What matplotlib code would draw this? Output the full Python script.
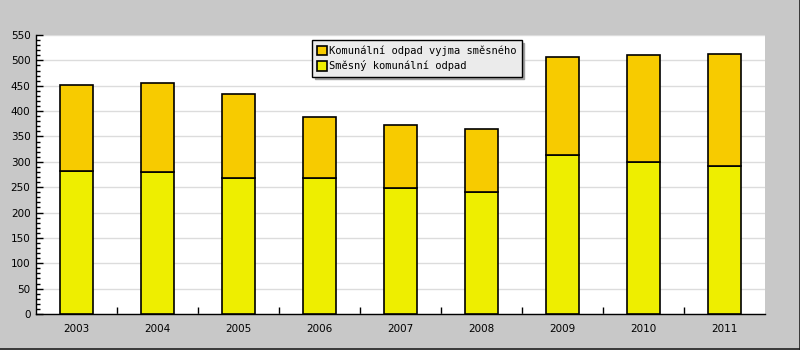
import numpy as np
import matplotlib.pyplot as plt
from matplotlib.ticker import MultipleLocator, FixedLocator
from matplotlib.lines import Line2D

years = ["2003", "2004", "2005", "2006", "2007", "2008", "2009", "2010", "2011"]
smesny = [281, 279, 268, 268, 248, 240, 313, 300, 292]
celkem = [451, 455, 434, 388, 372, 365, 506, 510, 512]
ostatni = [c - s for c, s in zip(celkem, smesny)]

label_top = "Komunální odpad vyjma směsného"
label_bottom = "Směsný komunální odpad"

fig = plt.figure(figsize=(8, 3.5), dpi=100, facecolor="#c8c8c8")
ax = fig.add_axes([0.045, 0.103, 0.911, 0.797])

# dark edge only on right and bottom
fig.add_artist(Line2D([0, 1], [0.0015, 0.0015], transform=fig.transFigure, color="#202020", linewidth=1.2))
fig.add_artist(Line2D([0.9994, 0.9994], [0, 1], transform=fig.transFigure, color="#202020", linewidth=1.2))

x = np.arange(len(years))
b1 = ax.bar(x, smesny, width=0.4, color="#eeee00", edgecolor="black", linewidth=1.2, zorder=3)
b2 = ax.bar(x, ostatni, width=0.4, bottom=smesny, color="#f7cb00", edgecolor="black",
            linewidth=1.2, zorder=3)

ax.set_xlim(-0.5, len(years) - 0.5)
ax.set_ylim(0, 550)
ax.yaxis.set_major_locator(MultipleLocator(50))
ax.yaxis.set_minor_locator(MultipleLocator(10))
ax.grid(True, axis="y", color="#dcdcdc", linewidth=1, zorder=0)

ax.set_xticks(x)
ax.set_xticklabels(years)
ax.xaxis.set_minor_locator(FixedLocator(x[:-1] + 0.5))
ax.tick_params(axis="x", which="major", length=0, pad=7, labelsize=7.5)
ax.tick_params(axis="x", which="minor", direction="in", length=5, width=1)
ax.tick_params(axis="y", which="major", direction="in", length=5, width=1, labelsize=7.5, pad=4)
ax.tick_params(axis="y", which="minor", direction="in", length=3, width=1)

for s in ["top", "right"]:
    ax.spines[s].set_visible(False)
ax.spines["left"].set_linewidth(1)
ax.spines["bottom"].set_linewidth(1)

leg = ax.legend([b2, b1], [label_top, label_bottom], loc="upper left",
                bbox_to_anchor=(0.379, 0.982), borderaxespad=0,
                prop={"family": "DejaVu Sans Mono", "size": 7.5},
                handlelength=0.95, handleheight=1.0, handletextpad=0.15,
                labelspacing=0.45, borderpad=0.5, fancybox=False,
                shadow={"color": "#a0a0a0", "alpha": 1}, framealpha=1,
                facecolor="#ebebeb", edgecolor="black")
leg.get_frame().set_linewidth(1)

fig.savefig("out.png", facecolor=fig.get_facecolor())
